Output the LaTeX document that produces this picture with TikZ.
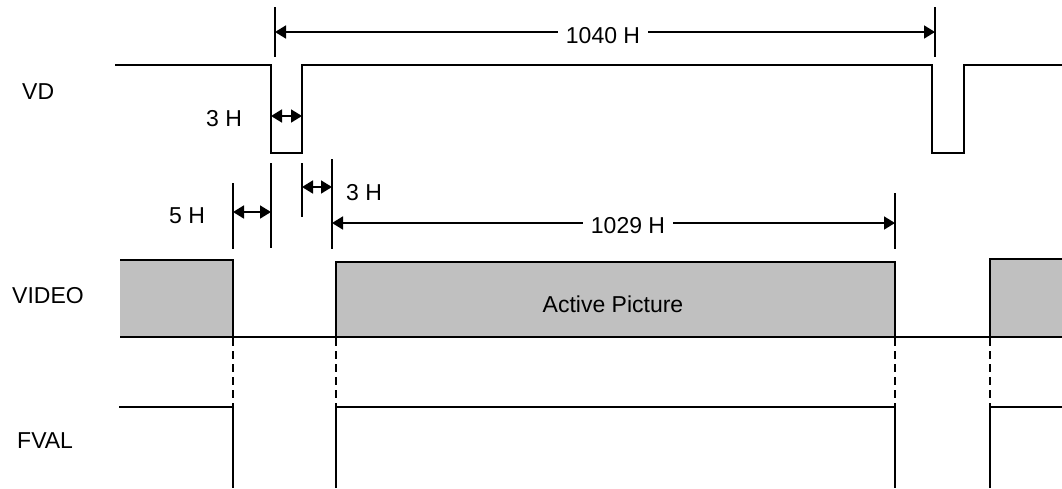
\documentclass[tikz,border=0pt]{standalone}
\usepackage{fontspec}
\setmainfont{Liberation Sans}
\usetikzlibrary{arrows.meta}
\definecolor{boxgray}{RGB}{192,192,192}
\begin{document}
\begin{tikzpicture}[x=1pt,y=-1pt,
  sig/.style={line width=1.7pt, line join=miter},
  tick/.style={line width=1.7pt},
  dim/.style={line width=1.7pt, {Triangle[length=11pt,width=13pt]}-{Triangle[length=11pt,width=13pt]}},
  dashv/.style={line width=1.7pt, dash pattern=on 8pt off 5pt},
  lbl/.style={font=\fontsize{23}{27}\selectfont, inner sep=0pt},
  dimlbl/.style={lbl, fill=white, inner xsep=8pt, inner ysep=2pt},
  gbox/.style={fill=boxgray}]
\useasboundingbox (0,0) rectangle (1062,488);

% ---- signal names
\node[lbl, anchor=base west] (nVD) at (22,99) {VD};
\node[lbl, anchor=base west] (nVIDEO) at (12,303) {VIDEO};
\node[lbl, anchor=base west] (nFVAL) at (17,448) {FVAL};

% ---- VD waveform
\draw[sig] (115,65) -- (271,65) -- (271,153) -- (302,153) -- (302,65)
  -- (932,65) -- (932,153) -- (964,153) -- (964,65) -- (1062,65);

% ---- 1040 H dimension
\coordinate (t1a) at (275,7);  \coordinate (t1b) at (275,57);
\coordinate (t2a) at (935,7);  \coordinate (t2b) at (935,57);
\draw[tick] (t1a) -- (t1b);
\draw[tick] (t2a) -- (t2b);
\coordinate (a1) at (275,32); \coordinate (a2) at (935,32);
\draw[dim] (a1) -- (a2);
\node[dimlbl, anchor=base] (n1040) at (603,43) {1040 H};

% ---- 3 H (VD pulse)
\coordinate (p1) at (271,116); \coordinate (p2) at (302,116);
\draw[dim] (p1) -- (p2);
\node[lbl, anchor=base] (n3a) at (224,126) {3 H};

% ---- second row ticks
\coordinate (k1a) at (233,183); \coordinate (k1b) at (233,249);
\coordinate (k2a) at (271,163); \coordinate (k2b) at (271,248);
\coordinate (k3a) at (302,163); \coordinate (k3b) at (302,217);
\coordinate (k4a) at (332,159); \coordinate (k4b) at (332,249);
\coordinate (k5a) at (895,193); \coordinate (k5b) at (895,249);
\foreach \k in {1,...,5} {\draw[tick] (k\k a) -- (k\k b);}

\coordinate (f1) at (233,212); \coordinate (f2) at (271,212);
\draw[dim] (f1) -- (f2);
\node[lbl, anchor=base] (n5) at (187,223) {5 H};

\coordinate (g1) at (302,187); \coordinate (g2) at (332,187);
\draw[dim] (g1) -- (g2);
\node[lbl, anchor=base west] (n3b) at (346,200) {3 H};

\coordinate (h1) at (332,223); \coordinate (h2) at (895,223);
\draw[dim] (h1) -- (h2);
\node[dimlbl, anchor=base] (n1029) at (628,233) {1029 H};

% ---- VIDEO
\fill[gbox] (120,260) rectangle (233,337);
\draw[sig] (120,260) -- (233,260) -- (233,337);
\draw[sig, gbox] (336,262) rectangle (895,337);
\fill[gbox] (990,259) rectangle (1062,337);
\draw[sig] (1062,259) -- (990,259) -- (990,337);
\draw[sig] (120,337) -- (1062,337);
\node[lbl, anchor=base] (nAP) at (613,312) {Active Picture};

% ---- dashed guides
\foreach \x in {233,336,895,990} {\draw[dashv] (\x,338) -- (\x,406);}

% ---- FVAL
\draw[sig] (119,407) -- (233,407) -- (233,488);
\draw[sig] (336,488) -- (336,407) -- (895,407) -- (895,488);
\draw[sig] (990,488) -- (990,407) -- (1062,407);
\end{tikzpicture}
\end{document}
